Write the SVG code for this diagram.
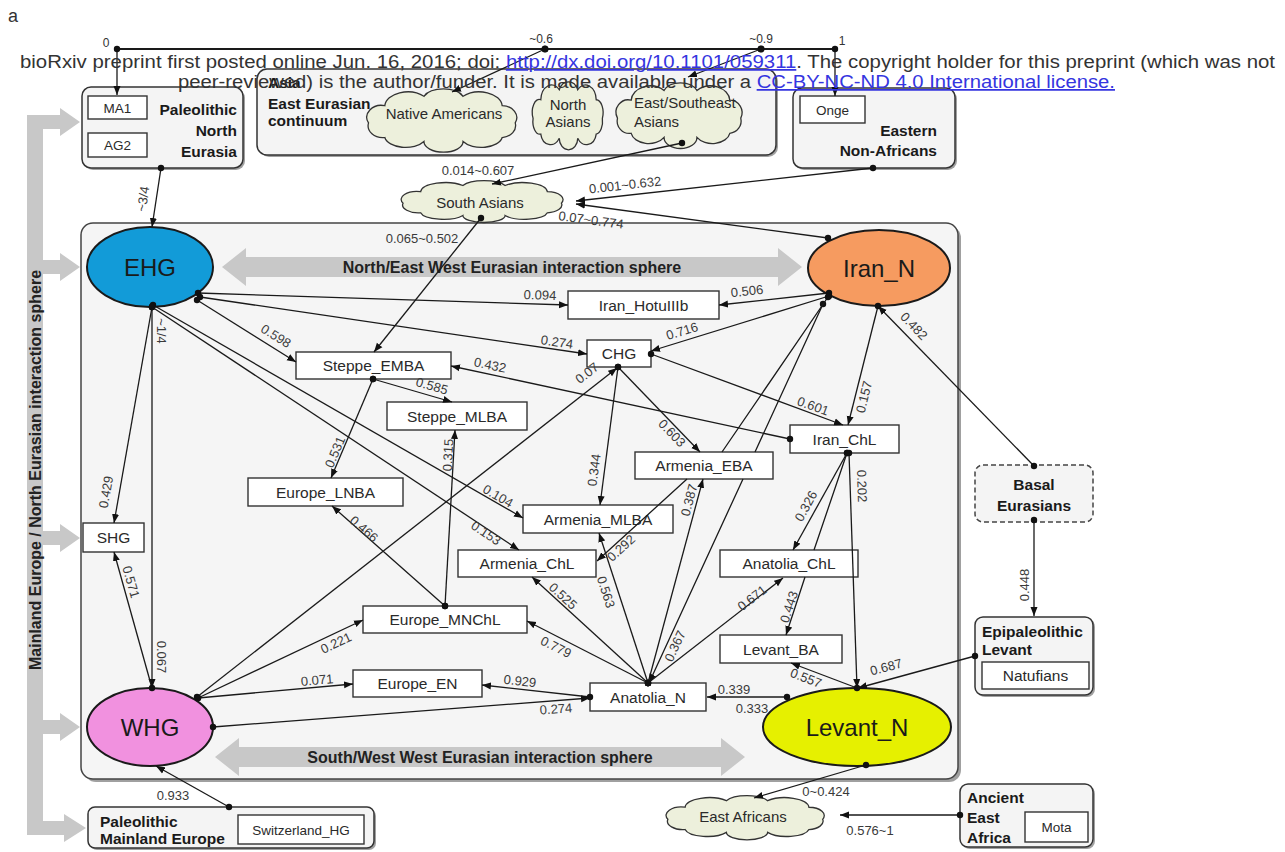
<svg xmlns="http://www.w3.org/2000/svg" width="1285" height="852" viewBox="0 0 1285 852">
<style>
text{font-family:"Liberation Sans",Arial,sans-serif}
.ed{fill:none;stroke:#1a1a1a;stroke-width:1.3;marker-start:url(#dot);marker-end:url(#arr)}
.el{font-size:13px;fill:#3a3a3a;text-anchor:middle;dominant-baseline:central}
.nb{fill:#fff;stroke:#333;stroke-width:1.4}
.nt{font-size:15.5px;fill:#2a2a2a;text-anchor:middle}
.rb{fill:#f4f4f4;stroke:#333;stroke-width:1.5}
.sh{fill:#a0a0a0}
.bt{font-size:15.5px;font-weight:bold;fill:#1a1a1a}
.cl{fill:#edf0dc;stroke:#333;stroke-width:1.3}
.ct{font-size:15px;fill:#2a2a2a}
.ga{fill:#c8c8c8}
.gt{font-size:16px;font-weight:bold;fill:#222;text-anchor:middle}
.ov{stroke:#1a1a1a;stroke-width:2}
.ot{font-size:24px;fill:#1a1a1a;text-anchor:middle}
.st{font-size:13.5px;fill:#2a2a2a;text-anchor:middle}
.wm{font-size:17.5px;fill:#333}
.lk{fill:#3535e0;text-decoration:underline}
.sc{font-size:12px;fill:#333;text-anchor:middle}
</style>
<defs>
<marker id="dot" markerWidth="8" markerHeight="8" refX="4" refY="4" markerUnits="userSpaceOnUse"><circle cx="4" cy="4" r="3.2" fill="#111"/></marker>
<marker id="arr" markerWidth="10" markerHeight="8" refX="9" refY="4" orient="auto" markerUnits="userSpaceOnUse"><path d="M0,0.5 L9,4 L0,7.5 z" fill="#111"/></marker>
<path id="cloud" vector-effect="non-scaling-stroke" d="M4,24 a9,9 0 0 1 10,-13 a14,11 0 0 1 24,-7 a13,9 0 0 1 24,0 a14,11 0 0 1 24,7 a9,9 0 0 1 8,13 a9,9 0 0 1 -8,11 a13,9 0 0 1 -24,3 a12,8 0 0 1 -24,0 a13,9 0 0 1 -24,-3 a9,9 0 0 1 -10,-11 z"/>
</defs>
<rect width="1285" height="852" fill="#fff"/>
<text x="8" y="22" font-size="18" fill="#333">a</text>

<g id="mainbox">
<rect x="84" y="226" width="877" height="556" rx="12" class="sh"/>
<rect x="81" y="223" width="877" height="556" rx="12" fill="#f5f5f5" stroke="#444" stroke-width="1.5"/>
</g>

<g id="spheres">
<polygon class="ga" points="222,267 246,248 246,257 778,257 778,248 802,267 778,286 778,277 246,277 246,286"/>
<text class="gt" x="512" y="273">North/East West Eurasian interaction sphere</text>
<polygon class="ga" points="215,757 239,738 239,747 721,747 721,738 745,757 721,776 721,767 239,767 239,776"/>
<text class="gt" x="480" y="763">South/West West Eurasian interaction sphere</text>
<rect class="ga" x="27" y="115" width="16" height="720"/>
<polygon class="ga" points="43,115 60,115 60,108 80,122 60,136 60,129 43,129"/>
<polygon class="ga" points="43,260 60,260 60,253 80,267 60,281 60,274 43,274"/>
<polygon class="ga" points="43,531 60,531 60,524 80,538 60,552 60,545 43,545"/>
<polygon class="ga" points="43,720 60,720 60,713 80,727 60,741 60,734 43,734"/>
<polygon class="ga" points="43,821 64,821 64,814 86,828 64,842 64,835 43,835"/>
<text class="gt" transform="translate(41,470) rotate(-90)">Mainland Europe / North Eurasian interaction sphere</text>
</g>

<g id="n_paleo_north_eurasia">
<rect x="84" y="89" width="161" height="81" rx="9" class="sh"/>
<rect x="82" y="87" width="161" height="81" rx="9" class="rb"/>
<rect x="88" y="96" width="59" height="23" class="nb"/>
<text class="st" x="117.5" y="112.5">MA1</text>
<rect x="88" y="133" width="59" height="24" class="nb"/>
<text class="st" x="117.5" y="150">AG2</text>
<text class="bt" x="237" y="115" text-anchor="end">Paleolithic</text>
<text class="bt" x="237" y="136" text-anchor="end">North</text>
<text class="bt" x="237" y="157" text-anchor="end">Eurasia</text>
</g>

<g id="n_east_eurasian">
<rect x="259" y="71" width="519" height="86" rx="10" class="sh"/>
<rect x="257" y="69" width="519" height="86" rx="10" class="rb"/>
<text class="bt" x="268" y="88">Asia</text>
<text class="bt" x="268" y="109" font-size="15">East Eurasian</text>
<text class="bt" x="268" y="126" font-size="15">continuum</text>
<use href="#cloud" class="cl" transform="translate(362,91) scale(1.63,1.33)"/>
<text class="ct" x="444" y="119" text-anchor="middle">Native Americans</text>
<use href="#cloud" class="cl" transform="translate(530,84) scale(0.77,1.43)"/>
<text class="ct" x="568" y="110" text-anchor="middle">North</text>
<text class="ct" x="568" y="127" text-anchor="middle">Asians</text>
<use href="#cloud" class="cl" transform="translate(612,85) scale(1.37,1.38)"/>
<text class="ct" x="634" y="108">East/Southeast</text>
<text class="ct" x="634" y="127">Asians</text>
</g>

<g id="n_eastern_nonafricans">
<rect x="795" y="90" width="162" height="80" rx="9" class="sh"/>
<rect x="793" y="88" width="162" height="80" rx="9" class="rb"/>
<rect x="800" y="96" width="65" height="27" class="nb"/>
<text class="st" x="832.5" y="114.5">Onge</text>
<text class="bt" x="937" y="136" text-anchor="end">Eastern</text>
<text class="bt" x="937" y="156" text-anchor="end">Non-Africans</text>
</g>

<g id="n_south_asians">
<use href="#cloud" class="cl" transform="translate(396,182) scale(1.76,0.88)"/>
<text class="ct" x="480" y="208" text-anchor="middle">South Asians</text>
</g>

<g id="n_EHG"><ellipse cx="150" cy="267" rx="63" ry="40" fill="#129bd8" class="ov"/><text class="ot" x="150" y="276">EHG</text></g>
<g id="n_Iran_N"><ellipse cx="879" cy="268" rx="71" ry="38" fill="#f69b60" class="ov"/><text class="ot" x="879" y="277">Iran_N</text></g>
<g id="n_WHG"><ellipse cx="150" cy="727" rx="63" ry="39" fill="#f191df" class="ov"/><text class="ot" x="150" y="736">WHG</text></g>
<g id="n_Levant_N"><ellipse cx="857" cy="727" rx="94" ry="39" fill="#e6f000" class="ov"/><text class="ot" x="857" y="736">Levant_N</text></g>

<g id="n_Iran_HotuIIIb"><rect x="568" y="291" width="151" height="28" class="nb"/><text class="nt" x="643.5" y="310.5">Iran_HotuIIIb</text></g>
<g id="n_CHG"><rect x="587" y="340" width="64" height="27" class="nb"/><text class="nt" x="619" y="359">CHG</text></g>
<g id="n_Steppe_EMBA"><rect x="296" y="352" width="155" height="27" class="nb"/><text class="nt" x="373.5" y="371">Steppe_EMBA</text></g>
<g id="n_Steppe_MLBA"><rect x="387" y="402" width="140" height="28" class="nb"/><text class="nt" x="457" y="421.5">Steppe_MLBA</text></g>
<g id="n_Iran_ChL"><rect x="790" y="425" width="109" height="28" class="nb"/><text class="nt" x="844.5" y="444.5">Iran_ChL</text></g>
<g id="n_Armenia_EBA"><rect x="635" y="452" width="138" height="27" class="nb"/><text class="nt" x="704" y="471">Armenia_EBA</text></g>
<g id="n_Europe_LNBA"><rect x="248" y="478" width="155" height="28" class="nb"/><text class="nt" x="325.5" y="497.5">Europe_LNBA</text></g>
<g id="n_Armenia_MLBA"><rect x="523" y="505" width="150" height="28" class="nb"/><text class="nt" x="598" y="524.5">Armenia_MLBA</text></g>
<g id="n_SHG"><rect x="83" y="523" width="61" height="29" class="nb"/><text class="nt" x="113.5" y="543">SHG</text></g>
<g id="n_Armenia_ChL"><rect x="458" y="550" width="138" height="27" class="nb"/><text class="nt" x="527" y="569">Armenia_ChL</text></g>
<g id="n_Anatolia_ChL"><rect x="720" y="550" width="138" height="27" class="nb"/><text class="nt" x="789" y="569">Anatolia_ChL</text></g>
<g id="n_Europe_MNChL"><rect x="363" y="606" width="164" height="27" class="nb"/><text class="nt" x="445" y="625">Europe_MNChL</text></g>
<g id="n_Levant_BA"><rect x="720" y="635" width="122" height="28" class="nb"/><text class="nt" x="781" y="654.5">Levant_BA</text></g>
<g id="n_Europe_EN"><rect x="353" y="670" width="129" height="27" class="nb"/><text class="nt" x="417.5" y="689">Europe_EN</text></g>
<g id="n_Anatolia_N"><rect x="590" y="683" width="116" height="28" class="nb"/><text class="nt" x="648" y="702.5">Anatolia_N</text></g>

<g id="n_basal">
<rect x="975" y="465" width="118" height="57" rx="8" fill="#f4f4f4" stroke="#444" stroke-width="1.5" stroke-dasharray="5,3"/>
<text class="bt" x="1034" y="490" text-anchor="middle">Basal</text>
<text class="bt" x="1034" y="511" text-anchor="middle">Eurasians</text>
</g>

<g id="n_epi_levant">
<rect x="977" y="619" width="118" height="78" rx="8" class="sh"/>
<rect x="975" y="617" width="118" height="78" rx="8" class="rb"/>
<text class="bt" x="982" y="637" font-size="15">Epipaleolithic</text>
<text class="bt" x="982" y="655" font-size="15">Levant</text>
<rect x="982" y="662" width="107" height="27" class="nb"/>
<text class="nt" x="1035.5" y="681">Natufians</text>
</g>

<g id="n_ancient_east_africa">
<rect x="962" y="786" width="133" height="63" rx="8" class="sh"/>
<rect x="960" y="784" width="133" height="63" rx="8" class="rb"/>
<text class="bt" x="967" y="803">Ancient</text>
<text class="bt" x="967" y="823">East</text>
<text class="bt" x="967" y="843">Africa</text>
<rect x="1025" y="812" width="63" height="30" class="nb"/>
<text class="st" x="1056.5" y="832">Mota</text>
</g>

<g id="n_east_africans">
<use href="#cloud" class="cl" transform="translate(661,797) scale(1.72,0.93)"/>
<text class="ct" x="743" y="822" text-anchor="middle">East Africans</text>
</g>

<g id="n_paleo_mainland_europe">
<rect x="90" y="809" width="286" height="41" rx="7" class="sh"/>
<rect x="88" y="807" width="286" height="41" rx="7" class="rb"/>
<text class="bt" x="100" y="827" font-size="15">Paleolithic</text>
<text class="bt" x="100" y="844" font-size="15">Mainland Europe</text>
<rect x="238" y="815" width="126" height="29" class="nb"/>
<text class="st" x="301" y="834.5">Switzerland_HG</text>
</g>

<g id="connectors">
<path d="M117,49 H835" stroke="#1a1a1a" stroke-width="2.2" fill="none"/>
<circle cx="545" cy="49" r="3.5" fill="#111"/>
<circle cx="761" cy="49" r="3.5" fill="#111"/>
<path class="ed" d="M117,49 V95"/>
<path class="ed" d="M545,49 L452,92"/>
<path class="ed" d="M761,49 L688,77"/>
<path class="ed" d="M835,49 V96"/>
<text class="sc" x="106" y="47">0</text>
<text class="sc" x="541" y="43">~0.6</text>
<text class="sc" x="761" y="43">~0.9</text>
<text class="sc" x="842" y="45">1</text>

<path class="ed" d="M682,143 L492,184"/>
<text class="el" x="478" y="170">0.014~0.607</text>
<path class="ed" d="M873,168 L576,201"/>
<text class="el" transform="translate(625,185) rotate(-6.3)">0.001~0.632</text>
<path class="ed" d="M828,238 L576,204"/>
<text class="el" transform="translate(591,220) rotate(7.7)">0.07~0.774</text>
<path class="ed" d="M481,218 L374,352"/>
<text class="el" x="422" y="238">0.065~0.502</text>

<path class="ed" d="M161,168 L152,227"/>
<text class="el" transform="translate(143,199) rotate(-81)">~3/4</text>
<path class="ed" d="M152,307 L114,523"/>
<text class="el" transform="translate(106,492) rotate(-80)">0.429</text>
<path class="ed" d="M152,307 L152,688"/>
<text class="el" transform="translate(161,331) rotate(90)">~1/4</text>
<text class="el" transform="translate(161,657) rotate(90)">0.067</text>
<path class="ed" d="M152,688 L114,552"/>
<text class="el" transform="translate(131,582) rotate(74)">0.571</text>
<path class="ed" d="M229,807 L156,766"/>
<text class="el" x="173" y="795">0.933</text>

<path class="ed" d="M198,293 L568,305"/>
<text class="el" transform="translate(540,295) rotate(1.9)">0.094</text>
<path class="ed" d="M829,293 L719,305"/>
<text class="el" transform="translate(747,291) rotate(-6)">0.506</text>
<path class="ed" d="M200,297 L587,354"/>
<text class="el" transform="translate(557,342) rotate(8.4)">0.274</text>
<path class="ed" d="M829,296 L651,351"/>
<text class="el" transform="translate(682,331) rotate(-17)">0.716</text>
<path class="ed" d="M197,300 L296,362"/>
<text class="el" transform="translate(276,336) rotate(32)">0.598</text>
<path class="ed" d="M790,439 L451,366"/>
<text class="el" transform="translate(490,365) rotate(12)">0.432</text>
<path class="ed" d="M651,354 L843,425"/>
<text class="el" transform="translate(813,406) rotate(20)">0.601</text>
<path class="ed" d="M878,306 L848,425"/>
<text class="el" transform="translate(864,397) rotate(-76)">0.157</text>
<path class="ed" d="M373,379 L452,402"/>
<text class="el" transform="translate(432,386) rotate(16)">0.585</text>
<path class="ed" d="M373,379 L331,478"/>
<text class="el" transform="translate(335,452) rotate(-67)">0.531</text>
<path class="ed" d="M445,606 L455,430"/>
<text class="el" transform="translate(448,455) rotate(-87)">0.315</text>
<path class="ed" d="M445,606 L332,506"/>
<text class="el" transform="translate(364,529) rotate(41)">0.466</text>
<path class="ed" d="M153,305 L523,518"/>
<text class="el" transform="translate(498,496) rotate(30)">0.104</text>
<path class="ed" d="M152,307 L519,550"/>
<text class="el" transform="translate(486,533) rotate(34)">0.153</text>
<path class="ed" d="M618,367 L600,505"/>
<text class="el" transform="translate(594,470) rotate(-82)">0.344</text>
<path class="ed" d="M618,367 L700,452"/>
<text class="el" transform="translate(672,433) rotate(46)">0.603</text>
<path class="ed" d="M197,697 L617,368"/>
<text class="el" transform="translate(587,373) rotate(-38)">0.07</text>
<path class="ed" d="M648,683 L532,577"/>
<text class="el" transform="translate(563,596) rotate(42)">0.525</text>
<path class="ed" d="M648,683 L527,621"/>
<text class="el" transform="translate(556,647) rotate(27)">0.779</text>
<path class="ed" d="M648,683 L599,533"/>
<text class="el" transform="translate(606,592) rotate(72)">0.563</text>
<path class="ed" d="M648,683 L703,479"/>
<text class="el" transform="translate(689,500) rotate(-75)">0.387</text>
<path class="ed" d="M823,304 L755,452 M743,479 L649,683"/>
<text class="el" transform="translate(675,646) rotate(-65)">0.367</text>
<path class="ed" d="M828,297 L722,452 M687,479 L597,561"/>
<text class="el" transform="translate(621,548) rotate(-42)">0.292</text>
<path class="ed" d="M648,683 L783,578"/>
<text class="el" transform="translate(752,598) rotate(-38)">0.671</text>
<path class="ed" d="M787,697 L707,697"/>
<text class="el" x="734" y="689">0.339</text>
<text class="el" x="752" y="708">0.333</text>
<path class="ed" d="M590,697 L482,685"/>
<text class="el" transform="translate(520,681) rotate(6)">0.929</text>
<path class="ed" d="M213,727 L590,698"/>
<text class="el" transform="translate(556,709) rotate(-4)">0.274</text>
<path class="ed" d="M198,698 L353,684"/>
<text class="el" transform="translate(317,680) rotate(-5)">0.071</text>
<path class="ed" d="M198,698 L363,620"/>
<text class="el" transform="translate(336,643) rotate(-25)">0.221</text>
<path class="ed" d="M847,453 L793,550"/>
<text class="el" transform="translate(806,506) rotate(-61)">0.326</text>
<path class="ed" d="M847,453 L814,550 M805,577 L786,635"/>
<text class="el" transform="translate(789,607) rotate(-72)">0.443</text>
<path class="ed" d="M849,453 L857,688"/>
<text class="el" transform="translate(862,486) rotate(88)">0.202</text>
<path class="ed" d="M857,688 L791,663"/>
<text class="el" transform="translate(806,678) rotate(21)">0.557</text>
<path class="ed" d="M975,656 L858,688"/>
<text class="el" transform="translate(886,667) rotate(-15)">0.687</text>
<path class="ed" d="M1034,466 L878,306"/>
<text class="el" transform="translate(914,326) rotate(46)">0.482</text>
<path class="ed" d="M1034,520 L1034,616"/>
<text class="el" transform="translate(1024,585) rotate(-90)">0.448</text>
<path class="ed" d="M866,765 L754,798"/>
<text class="el" x="826" y="791">0~0.424</text>
<path class="ed" d="M960,815 L840,815"/>
<text class="el" x="870" y="830">0.576~1</text>
</g>

<g id="watermark">
<text class="wm" x="20" y="68" textLength="1255" lengthAdjust="spacingAndGlyphs">bioRxiv preprint first posted online Jun. 16, 2016; doi: <tspan class="lk">http://dx.doi.org/10.1101/059311</tspan>. The copyright holder for this preprint (which was not</text>
<text class="wm" x="178" y="88" textLength="937" lengthAdjust="spacingAndGlyphs">peer-reviewed) is the author/funder. It is made available under a <tspan class="lk">CC-BY-NC-ND 4.0 International license.</tspan></text>
</g>
</svg>
